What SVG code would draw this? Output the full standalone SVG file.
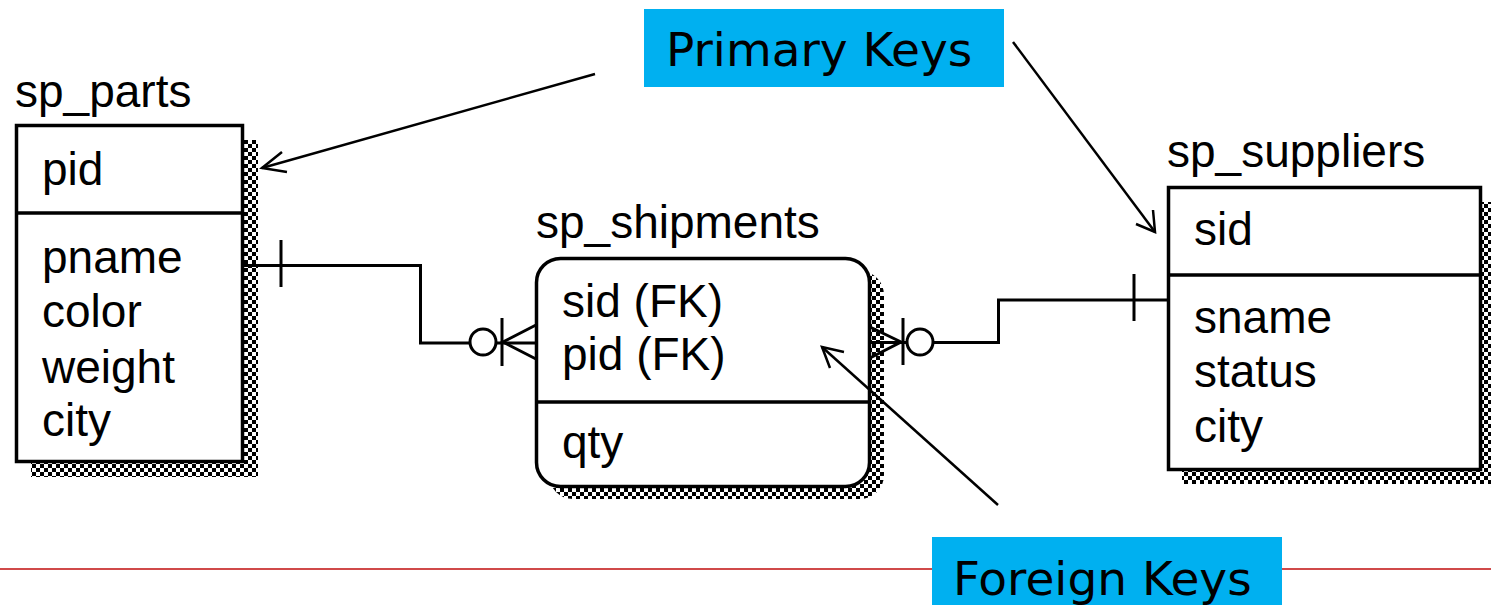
<svg xmlns="http://www.w3.org/2000/svg" width="1491" height="605" viewBox="0 0 1491 605">
<style>
.ent{font-family:"Liberation Sans",Arial,sans-serif;font-size:46px;fill:#000}
.box{fill:#fff;stroke:#000;stroke-width:3.5}
.div{stroke:#000;stroke-width:3.5}
.con{fill:none;stroke:#000;stroke-width:3}
.arr{fill:none;stroke:#000;stroke-width:2.5}
.lbl{font-family:"DejaVu Sans",Verdana,sans-serif;font-size:47px;fill:#000}
.callout{fill:#00b0f0}
</style>
<defs>
<pattern id="chk" width="8" height="8" patternUnits="userSpaceOnUse">
<rect width="8" height="8" fill="#fff"/>
<rect width="4" height="4" fill="#000"/>
<rect x="4" y="4" width="4" height="4" fill="#000"/>
</pattern>
</defs>
<rect width="1491" height="605" fill="#fff"/>
<line x1="0" y1="569" x2="1491" y2="569" stroke="#d04a4a" stroke-width="2"/>

<g id="sp_parts">
<rect x="31" y="140" width="227" height="337" fill="url(#chk)"/>
<rect class="box" x="16.5" y="125.5" width="226" height="336"/>
<line class="div" x1="16.5" y1="213" x2="242.5" y2="213"/>
<text class="ent" x="15" y="107">sp_parts</text>
<text class="ent" x="42" y="185">pid</text>
<text class="ent" x="42" y="273">pname</text>
<text class="ent" x="42" y="327">color</text>
<text class="ent" x="42" y="383">weight</text>
<text class="ent" x="42" y="436">city</text>
</g>

<g id="sp_shipments">
<rect x="549" y="271" width="335" height="228" rx="24" fill="url(#chk)"/>
<rect class="box" x="536.5" y="258.5" width="333" height="228" rx="24"/>
<line class="div" x1="536.5" y1="402" x2="869.5" y2="402"/>
<text class="ent" x="536" y="238">sp_shipments</text>
<text class="ent" x="562" y="317">sid (FK)</text>
<text class="ent" x="562" y="370">pid (FK)</text>
<text class="ent" x="562" y="458">qty</text>
</g>

<g id="sp_suppliers">
<rect x="1182" y="202" width="314" height="282" fill="url(#chk)"/>
<rect class="box" x="1168.5" y="187.5" width="312" height="282"/>
<line class="div" x1="1168.5" y1="275" x2="1480.5" y2="275"/>
<text class="ent" x="1167" y="167">sp_suppliers</text>
<text class="ent" x="1194" y="245">sid</text>
<text class="ent" x="1194" y="333">sname</text>
<text class="ent" x="1194" y="387">status</text>
<text class="ent" x="1194" y="442">city</text>
</g>

<g id="connectors">
<polyline class="con" points="244,265.5 420.5,265.5 420.5,343 470,343"/>
<line class="con" x1="281" y1="240" x2="281" y2="287"/>
<circle class="con" cx="483" cy="342" r="13"/>
<line class="con" x1="502" y1="318" x2="502" y2="366"/>
<line class="con" x1="496" y1="343" x2="536" y2="343"/>
<polyline class="con" points="536,325 503,342 536,359"/>

<polyline class="con" points="933,342.5 998.5,342.5 998.5,300 1168,300"/>
<line class="con" x1="1134" y1="274" x2="1134" y2="321"/>
<circle class="con" cx="920" cy="342" r="13"/>
<line class="con" x1="903" y1="318" x2="903" y2="365"/>
<line class="con" x1="870" y1="342.5" x2="907" y2="342.5"/>
<polyline class="con" points="870,327 901,342 870,358"/>
</g>

<g id="callout-primary">
<rect class="callout" x="644" y="9" width="360" height="78"/>
<text class="lbl" x="666" y="66">Primary Keys</text>
</g>
<g id="callout-foreign">
<rect class="callout" x="932" y="537" width="350" height="68"/>
<text class="lbl" x="953" y="595">Foreign Keys</text>
</g>

<g id="arrows">
<line class="arr" x1="595" y1="74" x2="262" y2="168"/>
<polyline class="arr" points="282,152 262,168 287,172"/>
<line class="arr" x1="1013" y1="42" x2="1155" y2="232"/>
<polyline class="arr" points="1136,224 1155,232 1153,210"/>
<line class="arr" x1="998" y1="505" x2="822" y2="347"/>
<polyline class="arr" points="830,368 822,347 844,352"/>
</g>
</svg>
